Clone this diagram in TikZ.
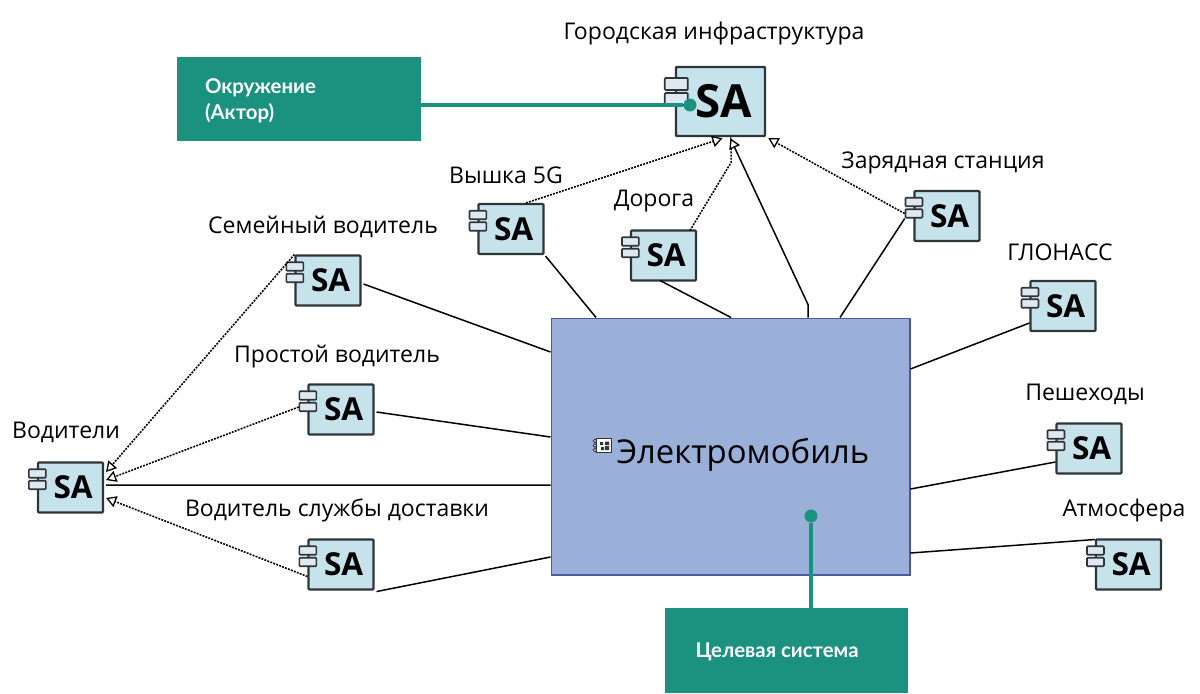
\documentclass[tikz,border=0pt]{standalone}
\usepackage{fontspec}
\setmainfont{Open Sans}
\newfontfamily\tagfont{Lato}
\usetikzlibrary{arrows.meta}
\definecolor{tealc}{HTML}{1B917F}
\definecolor{safill}{HTML}{C6E3EC}
\definecolor{portfill}{HTML}{DFE8F2}
\definecolor{carfill}{HTML}{9AB0D9}
\definecolor{carline}{HTML}{4A5AA0}
\definecolor{saline}{HTML}{2E3538}
\tikzset{
  sabox/.style={draw=saline,line width=1.2pt,rounded corners=0.5pt,fill=safill,minimum width=1.3cm,minimum height=1cm,inner sep=0pt,font=\fontsize{18}{18}\selectfont\bfseries},
  bigbox/.style={sabox,line width=1.4pt,minimum width=1.78cm,minimum height=1.38cm,font=\fontsize{26}{26}\selectfont\bfseries},
  saport/.style={draw=saline,line width=0.9pt,rounded corners=0.5pt,fill=portfill,minimum width=0.34cm,minimum height=0.17cm,inner sep=0pt},
  bigport/.style={saport,minimum width=0.46cm,minimum height=0.24cm},
  lbl/.style={font=\fontsize{13.1}{15}\selectfont,text=black,inner sep=0pt,yshift=-1.4pt},
  tagbox/.style={fill=tealc,minimum width=4.88cm,minimum height=1.69cm,inner sep=0pt},
  tagtext/.style={text=white,align=left,anchor=west,inner sep=0pt,font=\tagfont\fontsize{11.6}{14.8}\selectfont\bfseries},
  link/.style={draw=black,line width=0.85pt},
  realize/.style={link,line width=0.9pt,dash pattern=on 1.1pt off 0.7pt,-{Triangle[open,fill=white,length=5.8pt,width=6.5pt,line width=0.75pt]}},
  tagline/.style={draw=tealc,line width=1.8pt},
  tagdot/.style={circle,fill=tealc,minimum size=0.26cm,inner sep=0pt}
}
\newcommand{\sacomp}[3]{%
  \node[sabox] (#1) at (#2,#3) {\hspace{3pt}SA};
  \node[saport] (#1a) at ([shift={(0.5,-14)}]#1.west) {};
  \node[saport] (#1b) at ([shift={(0.5,-2.5)}]#1.west) {};
}
\begin{document}
\begin{tikzpicture}[x=0.02cm,y=-0.02cm]
\useasboundingbox (0,0) rectangle (1200,693);
% main system
\node[draw=carline,line width=0.6pt,fill=carfill,minimum width=7.18cm,minimum height=5.14cm,inner sep=0pt] (car) at (730.5,446.5) {};
\node[font=\fontsize{18.7}{20}\selectfont,inner sep=0pt] (carname) at (743,455) {Электромобиль};
\node[draw=saline,line width=0.6pt,fill=white,minimum width=0.3cm,minimum height=0.28cm,inner sep=0pt] (caricon) at (604,445.5) {};
\fill[saline] (600,442) rectangle (603,445) (605,441.5) rectangle (609,445) (601,447) rectangle (604,450) (605,446) rectangle (609,450);
\draw[saline,line width=0.5pt,fill=white] (595,441) circle (1.8) (595,445.5) circle (1.8) (595,450) circle (1.8);
% components
\node[bigbox] (city) at (720.5,101.5) {\hspace{4pt}SA};
\node[bigport] (citya) at ([shift={(1.5,-17.5)}]city.west) {};
\node[bigport] (cityb) at ([shift={(1.5,-2.5)}]city.west) {};
\sacomp{family}{328}{280.5}
\sacomp{simple}{341}{409.5}
\sacomp{delivery}{341}{564.5}
\sacomp{drivers}{70.5}{487.5}
\sacomp{tower}{511}{229}
\sacomp{road}{663.5}{255.5}
\sacomp{charger}{947}{216}
\sacomp{glonass}{1063}{306}
\sacomp{walkers}{1089}{448.5}
\sacomp{air}{1128.5}{564.5}
% labels
\node[lbl] at (714,31) {Городская инфраструктура};
\node[lbl] at (506,173) {Вышка 5G};
\node[lbl] at (654,199) {Дорога};
\node[lbl] at (943,160) {Зарядная станция};
\node[lbl] at (323,224) {Семейный водитель};
\node[lbl] at (1060,250) {ГЛОНАСС};
\node[lbl] at (337,354) {Простой водитель};
\node[lbl] at (1085,392) {Пешеходы};
\node[lbl] at (66,430) {Водители};
\node[lbl] at (337,508) {Водитель службы доставки};
\node[lbl] at (1124,508) {Атмосфера};
% solid links to the system
\draw[link] ([shift={(2,3.5)}]family.east) -- ([shift={(0,-94.5)}]car.west);
\draw[link] ([shift={(2,2.5)}]simple.east) -- ([shift={(0,-9.5)}]car.west);
\draw[link] ([shift={(2,-2.5)}]drivers.east) -- ([shift={(0,38.5)}]car.west);
\draw[link] ([shift={(2,1)}]delivery.south east) -- ([shift={(0,110.5)}]car.west);
\draw[link] ([shift={(1,1)}]tower.south east) -- ([shift={(-134.5,0)}]car.north);
\draw[link] ([shift={(-3.5,25)}]road.center) -- ([shift={(0.5,0)}]car.north);
\draw[link] (chargerb.south west) -- ([shift={(109.5,0)}]car.north);
\draw[link] ([shift={(0,17)}]glonass.west) -- ([shift={(0,-77.5)}]car.east);
\draw[link] ([shift={(0,13.5)}]walkers.west) -- ([shift={(0,42.5)}]car.east);
\draw[link] ([shift={(0,-25)}]air.west) -- ([shift={(0,106.5)}]car.east);
\draw[link] ([shift={(77.5,0)}]car.north) -- ++(0,-13) -- ([shift={(14,10)}]city.south);
% dotted links
\draw[realize] ([shift={(15,0)}]tower.north) -- ([shift={(2,1)}]city.south);
\draw[realize] ([shift={(26.5,-25)}]road.center) -- ([shift={(34,-67)}]road.north east) -- ([shift={(34,-90)}]road.north east) -- ([shift={(10,1)}]city.south);
\draw[realize] (chargerb.west) -- ([shift={(2,1)}]city.south east);
\draw[realize] (family.north west) -- ([shift={(2,-15.5)}]drivers.east);
\draw[realize] (simpleb.west) -- ([shift={(2,-7.5)}]drivers.east);
\draw[realize] ([shift={(0,12)}]delivery.west) -- ([shift={(2,10.5)}]drivers.east);
% teal tags
\node[tagbox] (envtag) at (299,99) {};
\node[tagtext] (envtext) at ([shift={(28,1.5)}]envtag.west) {Окружение\\(Актор)};
\node[tagbox] (systag) at (786.5,650.5) {};
\node[tagtext] (systext) at ([shift={(31,1)}]systag.west) {Целевая система};
\node[tagdot] (citydot) at (690,105) {};
\node[tagdot] (cardot) at (811,516) {};
\draw[tagline] (envtag.east |- citydot) -- (citydot);
\draw[tagline] (cardot) -- (cardot |- systag.north);
\end{tikzpicture}
\end{document}
